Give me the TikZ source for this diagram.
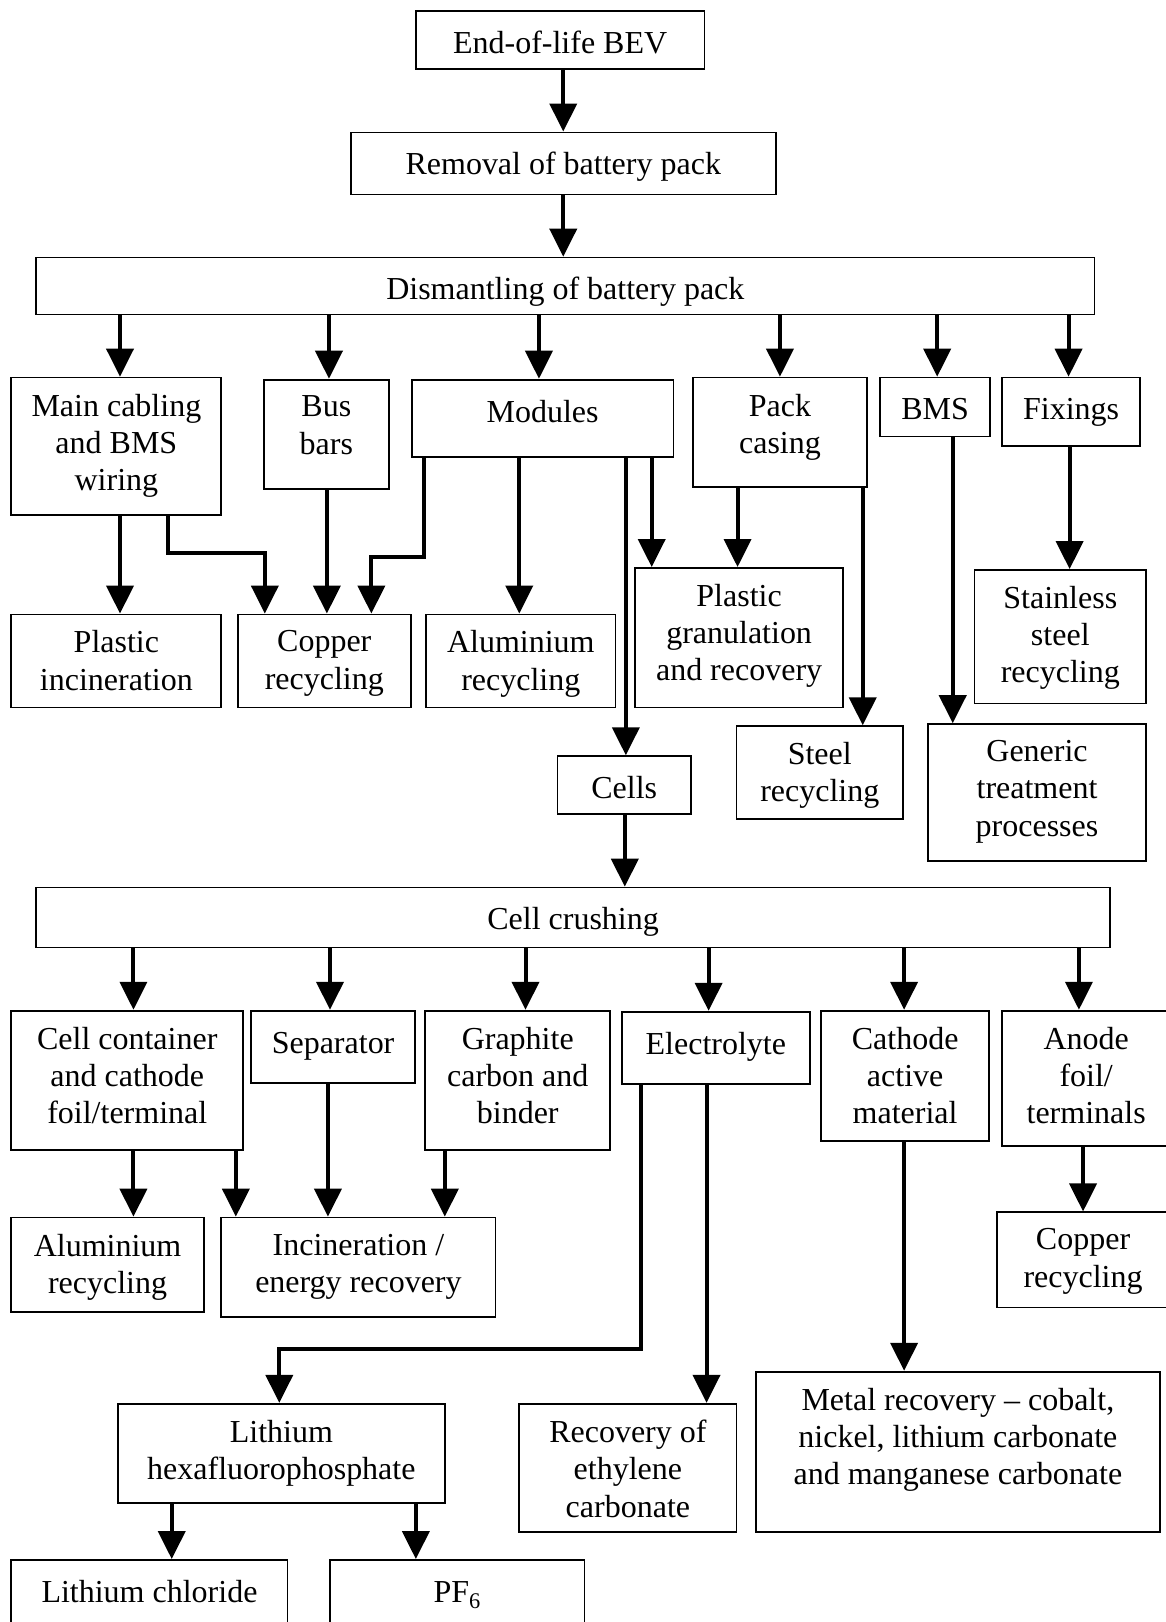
\documentclass[tikz,border=0pt]{standalone}
\usepackage{fontspec}
\setmainfont{Liberation Serif}
\usetikzlibrary{arrows.meta,fit}

\begin{document}
\begin{tikzpicture}[x=1.0346pt, y=-1.0346pt,
	box/.style={draw, line width=1.8pt, inner sep=0pt},
	txt/.style={anchor=north, align=center, inner sep=0pt, yshift=-17pt,
		font=\fontsize{32}{37.25}\selectfont, execute at begin node=\strut},
	arr/.style={line width=4pt, -{Triangle[length=28pt, width=27pt]}}]
	\useasboundingbox (0,0) rectangle (1127,1568);
	\clip (0,0) rectangle (1127,1568);
	% pack level
	\node[box, fit={(402,11) (681,67)}, label={[txt]north:End-of-life BEV}] (bev) {};
	\node[box, fit={(339,128) (750,188)}, label={[txt]north:Removal of battery pack}] (rem) {};
	\node[box, fit={(35,249) (1058,304)}, label={[txt]north:Dismantling of battery pack}] (dis) {};
	\node[box, fit={(11,365) (214,498)}, label={[txt]north:Main cabling\\and BMS\\wiring}] (mcab) {};
	\node[box, fit={(255,367) (376,473)}, label={[txt]north:Bus\\bars}] (bus) {};
	\node[box, fit={(398,367) (651,442)}, label={[txt]north:Modules}] (mod) {};
	\node[box, fit={(670,365) (838,471)}, label={[txt]north:Pack\\casing}] (pack) {};
	\node[box, fit={(851,365) (957,422)}, label={[txt]north:BMS}] (bms) {};
	\node[box, fit={(969,365) (1102,431)}, label={[txt]north:Fixings}] (fix) {};
	\node[box, fit={(11,594) (214,684)}, label={[txt]north:Plastic\\incineration}] (pinc) {};
	\node[box, fit={(230,594) (397,684)}, label={[txt]north:Copper\\recycling}] (cu) {};
	\node[box, fit={(412,594) (595,684)}, label={[txt]north:Aluminium\\recycling}] (al) {};
	\node[box, fit={(614,549) (815,684)}, label={[txt]north:Plastic\\granulation\\and recovery}] (pgr) {};
	\node[box, fit={(942,551) (1108,680)}, label={[txt]north:Stainless\\steel\\recycling}] (ss) {};
	\node[box, fit={(539,731) (668,787)}, label={[txt]north:Cells}] (cells) {};
	\node[box, fit={(712,702) (873,792)}, label={[txt]north:Steel\\recycling}] (st) {};
	\node[box, fit={(897,700) (1108,832)}, label={[txt]north:Generic\\treatment\\processes}] (gen) {};
	% cell level
	\node[box, fit={(35,858) (1073,916)}, label={[txt]north:Cell crushing}] (crush) {};
	\node[box, fit={(11,977) (235,1112)}, label={[txt]north:Cell container\\and cathode\\foil/terminal}] (cc) {};
	\node[box, fit={(243,977) (401,1047)}, label={[txt]north:Separator}] (sep) {};
	\node[box, fit={(411,977) (590,1112)}, label={[txt]north:Graphite\\carbon and\\binder}] (gr) {};
	\node[box, fit={(601,978) (783,1048)}, label={[txt]north:Electrolyte}] (el) {};
	\node[box, fit={(794,977) (956,1103)}, label={[txt]north:Cathode\\active\\material}] (cat) {};
	\node[box, fit={(969,977) (1131,1108)}, label={[txt]north:Anode\\foil/\\terminals}] (an) {};
	\node[box, fit={(11,1177) (197,1268)}, label={[txt]north:Aluminium\\recycling}] (al2) {};
	\node[box, fit={(214,1177) (479,1273)}, label={[txt]north:Incineration /\\energy recovery}] (inc) {};
	\node[box, fit={(964,1172) (1130,1264)}, label={[txt]north:Copper\\recycling}] (cu2) {};
	\node[box, fit={(114,1357) (430,1453)}, label={[txt]north:Lithium\\hexafluorophosphate}] (lih) {};
	\node[box, fit={(502,1357) (712,1481)}, label={[txt]north:Recovery of\\ethylene\\carbonate}] (rec) {};
	\node[box, fit={(731,1326) (1121,1481)}, label={[txt]north:Metal recovery – cobalt,\\nickel, lithium carbonate\\and manganese carbonate}] (met) {};
	\node[box, fit={(11,1508) (278,1590)}, label={[txt]north:Lithium chloride}] (licl) {};
	\node[box, fit={(319,1508) (565,1590)}, label={[txt]north:PF\textsubscript{6}}] (pf) {};
	% arrows
	\draw[arr] (bev.south -| rem.north) -- (rem.north);
	\draw[arr] (rem.south) -- (rem.south |- dis.north);
	\foreach \n/\x in {mcab/116, bus/318, mod/521, pack/754, bms/906, fix/1033}
		\draw[arr] (\x,0 |- dis.south) -- (\x,0 |- \n.north);
	\draw[arr] (116,0 |- mcab.south) -- (116,0 |- pinc.north);
	\draw[arr] (162,0 |- mcab.south) |- (256,535) -- (256,0 |- cu.north);
	\draw[arr] (316,0 |- bus.south) -- (316,0 |- cu.north);
	\draw[arr] (410,0 |- mod.south) |- (359,538) -- (359,0 |- cu.north);
	\draw[arr] (502,0 |- mod.south) -- (502,0 |- al.north);
	\draw[arr] (605,0 |- mod.south) -- (605,0 |- cells.north);
	\draw[arr] (630,0 |- mod.south) -- (630,0 |- pgr.north);
	\draw[arr] (713,0 |- pack.south) -- (713,0 |- pgr.north);
	\draw[arr] (834,0 |- pack.south) -- (834,0 |- st.north);
	\draw[arr] (921,0 |- bms.south) -- (921,0 |- gen.north);
	\draw[arr] (1034,0 |- fix.south) -- (1034,0 |- ss.north);
	\draw[arr] (604,0 |- cells.south) -- (604,0 |- crush.north);
	\foreach \n/\x in {cc/129, sep/319, gr/508, el/685, cat/874, an/1043}
		\draw[arr] (\x,0 |- crush.south) -- (\x,0 |- \n.north);
	\draw[arr] (129,0 |- cc.south) -- (129,0 |- al2.north);
	\draw[arr] (228,0 |- cc.south) -- (228,0 |- inc.north);
	\draw[arr] (317,0 |- sep.south) -- (317,0 |- inc.north);
	\draw[arr] (430,0 |- gr.south) -- (430,0 |- inc.north);
	\draw[arr] (620,0 |- el.south) |- (270,1304) -- (270,0 |- lih.north);
	\draw[arr] (683,0 |- el.south) -- (683,0 |- rec.north);
	\draw[arr] (874,0 |- cat.south) -- (874,0 |- met.north);
	\draw[arr] (1047,0 |- an.south) -- (1047,0 |- cu2.north);
	\draw[arr] (166,0 |- lih.south) -- (166,0 |- licl.north);
	\draw[arr] (402,0 |- lih.south) -- (402,0 |- pf.north);
\end{tikzpicture}
\end{document}
